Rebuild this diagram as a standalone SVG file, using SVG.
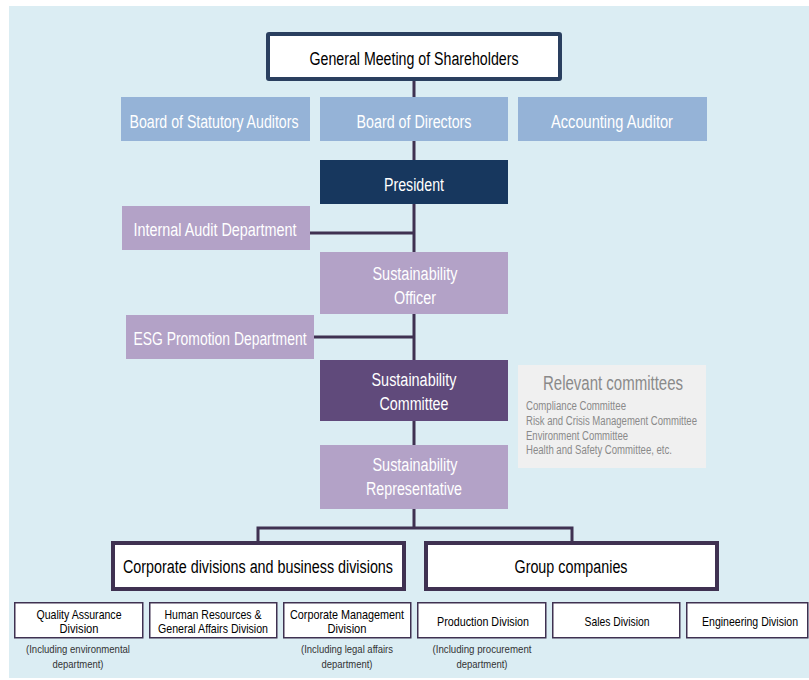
<svg xmlns="http://www.w3.org/2000/svg" width="809" height="680" viewBox="0 0 809 680">
<style>
text{font-family:"Liberation Sans",Arial,sans-serif;text-anchor:middle}
.lt{fill:#ffffff;font-size:18px}
.dk{fill:#000000;font-size:18px}
.sm{fill:#000000;font-size:13.5px}
.nt{fill:#333333;font-size:11px}
.blue{fill:#95b3d7}
.lav{fill:#b3a2c7}
.wbox{fill:#ffffff;stroke:#3f3151;stroke-width:1.5}
.big{fill:#ffffff;stroke:#3f3151;stroke-width:4}
.conn{stroke:#3f3151;stroke-width:3;fill:none}
.rc{fill:#8a8a8a;font-size:12px;text-anchor:start}
</style>
<rect x="9" y="6" width="800" height="672" fill="#dbedf3"/>
<g id="connectors">
<line class="conn" x1="414" y1="79" x2="414" y2="528"/>
<line class="conn" x1="310" y1="233" x2="414" y2="233"/>
<line class="conn" x1="314" y1="337" x2="414" y2="337"/>
<polyline class="conn" stroke-width="2.5" points="258,543 258,528 572,528 572,543"/>
</g>
<g id="gms">
<rect x="268" y="34" width="292" height="45" fill="#ffffff" stroke="#2a3f5f" stroke-width="4" rx="1"/>
<text class="dk" x="414" y="65" font-size="19" textLength="209" lengthAdjust="spacingAndGlyphs">General Meeting of Shareholders</text>
</g>
<g id="statutory-auditors">
<rect class="blue" x="121" y="97" width="189" height="44"/>
<text class="lt" x="214" y="128" textLength="169" lengthAdjust="spacingAndGlyphs">Board of Statutory Auditors</text>
</g>
<g id="board-directors">
<rect class="blue" x="320" y="97" width="188" height="44"/>
<text class="lt" x="414" y="128" textLength="115" lengthAdjust="spacingAndGlyphs">Board of Directors</text>
</g>
<g id="accounting-auditor">
<rect class="blue" x="518" y="97" width="189" height="44"/>
<text class="lt" x="612" y="128" textLength="122" lengthAdjust="spacingAndGlyphs">Accounting Auditor</text>
</g>
<g id="president">
<rect x="320" y="160" width="188" height="44" fill="#17375e"/>
<text class="lt" x="414" y="191" textLength="60" lengthAdjust="spacingAndGlyphs">President</text>
</g>
<g id="internal-audit">
<rect class="lav" x="122" y="206" width="188" height="44"/>
<text class="lt" x="215" y="236" textLength="163" lengthAdjust="spacingAndGlyphs">Internal Audit Department</text>
</g>
<g id="sus-officer">
<rect class="lav" x="320" y="252" width="188" height="62"/>
<text class="lt" x="415" y="280" textLength="85" lengthAdjust="spacingAndGlyphs">Sustainability</text>
<text class="lt" x="415" y="304" textLength="42" lengthAdjust="spacingAndGlyphs">Officer</text>
</g>
<g id="esg">
<rect class="lav" x="126" y="315" width="188" height="44"/>
<text class="lt" x="220" y="345" textLength="173" lengthAdjust="spacingAndGlyphs">ESG Promotion Department</text>
</g>
<g id="sus-committee">
<rect x="320" y="360" width="188" height="61" fill="#604a7b"/>
<text class="lt" x="414" y="386" textLength="85" lengthAdjust="spacingAndGlyphs">Sustainability</text>
<text class="lt" x="414" y="410" textLength="69" lengthAdjust="spacingAndGlyphs">Committee</text>
</g>
<g id="relevant-committees">
<rect x="518" y="365" width="188" height="103" fill="#f0f0f0"/>
<text x="613" y="390" fill="#8a8a8a" font-size="20" textLength="140" lengthAdjust="spacingAndGlyphs">Relevant committees</text>
<text class="rc" x="526" y="410" textLength="100" lengthAdjust="spacingAndGlyphs">Compliance Committee</text>
<text class="rc" x="526" y="425" textLength="171" lengthAdjust="spacingAndGlyphs">Risk and Crisis Management Committee</text>
<text class="rc" x="526" y="440" textLength="102" lengthAdjust="spacingAndGlyphs">Environment Committee</text>
<text class="rc" x="526" y="454" textLength="146" lengthAdjust="spacingAndGlyphs">Health and Safety Committee, etc.</text>
</g>
<g id="sus-rep">
<rect class="lav" x="320" y="445" width="188" height="64"/>
<text class="lt" x="415" y="471" textLength="85" lengthAdjust="spacingAndGlyphs">Sustainability</text>
<text class="lt" x="414" y="495" textLength="96" lengthAdjust="spacingAndGlyphs">Representative</text>
</g>
<g id="corporate-divisions">
<rect class="big" x="113" y="543" width="291" height="46"/>
<text class="dk" x="258" y="573" textLength="270" lengthAdjust="spacingAndGlyphs">Corporate divisions and business divisions</text>
</g>
<g id="group-companies">
<rect class="big" x="426" y="543" width="291" height="46"/>
<text class="dk" x="571" y="573" textLength="113" lengthAdjust="spacingAndGlyphs">Group companies</text>
</g>
<g id="quality-assurance">
<rect class="wbox" x="14.75" y="602.75" width="128" height="35"/>
<text class="sm" x="79" y="619" textLength="85" lengthAdjust="spacingAndGlyphs">Quality Assurance</text>
<text class="sm" x="79" y="633" textLength="39" lengthAdjust="spacingAndGlyphs">Division</text>
<text class="nt" x="78" y="653" textLength="104" lengthAdjust="spacingAndGlyphs">(Including environmental</text>
<text class="nt" x="78" y="668" textLength="51" lengthAdjust="spacingAndGlyphs">department)</text>
</g>
<g id="hr">
<rect class="wbox" x="149.75" y="602.75" width="127" height="35"/>
<text class="sm" x="213" y="619" textLength="97" lengthAdjust="spacingAndGlyphs">Human Resources &amp;</text>
<text class="sm" x="213" y="633" textLength="110" lengthAdjust="spacingAndGlyphs">General Affairs Division</text>
</g>
<g id="corp-mgmt">
<rect class="wbox" x="283.75" y="602.75" width="127" height="35"/>
<text class="sm" x="347" y="619" textLength="114" lengthAdjust="spacingAndGlyphs">Corporate Management</text>
<text class="sm" x="347" y="633" textLength="39" lengthAdjust="spacingAndGlyphs">Division</text>
<text class="nt" x="347" y="653" textLength="92" lengthAdjust="spacingAndGlyphs">(Including legal affairs</text>
<text class="nt" x="347" y="668" textLength="51" lengthAdjust="spacingAndGlyphs">department)</text>
</g>
<g id="production">
<rect class="wbox" x="417.75" y="602.75" width="128" height="35"/>
<text class="sm" x="483" y="626" textLength="92" lengthAdjust="spacingAndGlyphs">Production Division</text>
<text class="nt" x="482" y="653" textLength="99" lengthAdjust="spacingAndGlyphs">(Including procurement</text>
<text class="nt" x="482" y="668" textLength="51" lengthAdjust="spacingAndGlyphs">department)</text>
</g>
<g id="sales">
<rect class="wbox" x="552.75" y="602.75" width="127" height="35"/>
<text class="sm" x="617" y="626" textLength="65" lengthAdjust="spacingAndGlyphs">Sales Division</text>
</g>
<g id="engineering">
<rect class="wbox" x="686.75" y="602.75" width="121" height="35"/>
<text class="sm" x="750" y="626" font-size="12" textLength="96" lengthAdjust="spacingAndGlyphs">Engineering Division</text>
</g>
</svg>
